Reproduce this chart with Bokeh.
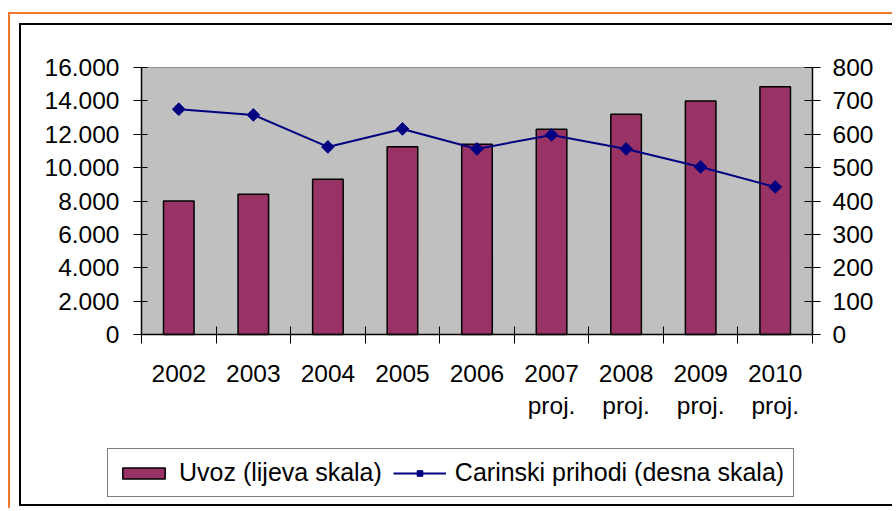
import numpy as np
from bokeh.plotting import figure
from bokeh.models import (Range1d, LinearAxis, FixedTicker, ColumnDataSource,
                          Legend, LegendItem)
from bokeh.embed import file_html
from bokeh.resources import INLINE

# ---- data ----
years = ["2002", "2003", "2004", "2005", "2006", "2007", "2008", "2009", "2010"]
notes = ["", "", "", "", "", "proj.", "proj.", "proj.", "proj."]
uvoz = [8000, 8400, 9300, 11250, 11400, 12300, 13200, 14000, 14850]
carinski = [675, 658, 562, 616, 556, 598, 556, 502, 442]
left_ticks = [0, 2000, 4000, 6000, 8000, 10000, 12000, 14000, 16000]
left_labels = ["0", "2.000", "4.000", "6.000", "8.000", "10.000", "12.000", "14.000", "16.000"]
right_ticks = [0, 100, 200, 300, 400, 500, 600, 700, 800]
right_labels = ["0", "100", "200", "300", "400", "500", "600", "700", "800"]

FONT = "Liberation Sans"
TICK_FS = "24.5px"

# ---- layout (pixels): canvas and the gray plot area inside it ----
W, H = 892, 508
PL, PR, PT, PB = 141, 812, 67, 334   # plot area edges on the canvas

n = len(years)
lmax = left_ticks[-1]
rmax = right_ticks[-1]
pxx = (PR - PL) / n
pxy = (PB - PT)
x_start, x_end = -PL / pxx, n + (W - PR) / pxx
yl_start, yl_end = -(H - PB) / pxy * lmax, lmax + PT / pxy * lmax
yr_start, yr_end = -(H - PB) / pxy * rmax, rmax + PT / pxy * rmax

xs = [i + 0.5 for i in range(n)]
src = ColumnDataSource(dict(x=xs, uvoz=uvoz, car=carinski))

p = figure(width=W, height=H, title=None,
           x_range=Range1d(x_start, x_end), y_range=Range1d(yl_start, yl_end),
           output_backend="svg", toolbar_location=None,
           min_border=0, min_border_left=0, min_border_right=0,
           min_border_top=0, min_border_bottom=0)
p.extra_y_ranges = {"right": Range1d(yr_start, yr_end)}
p.background_fill_alpha = 0
p.border_fill_alpha = 0
p.outline_line_color = None
p.xgrid.visible = False
p.ygrid.visible = False
# chart-area borders (orange outer frame, black inner frame) drawn behind the canvas
p.styles = {"background": (
    "linear-gradient(#F47A2A,#F47A2A) 8px 12px / 100% 2px no-repeat, "
    "linear-gradient(#F47A2A,#F47A2A) 8px 12px / 2px 100% no-repeat, "
    "linear-gradient(#000,#000) 19px 23px / 100% 2px no-repeat, "
    "linear-gradient(#000,#000) 19px 23px / 2px 483px no-repeat, "
    "linear-gradient(#000,#000) 19px 504px / 100% 2px no-repeat, #fff")}

# gray plot-area background spanning the data region
p.quad(left=0, right=n, bottom=0, top=lmax, fill_color="#C0C0C0",
       line_color="#909090", line_width=1)

bars = p.vbar(x="x", top="uvoz", width=0.41, source=src, fill_color="#993366",
              line_color="black", line_width=1.5)
ln = p.line("x", "car", source=src, y_range_name="right", line_color="#000080",
            line_width=2)
sc = p.scatter("x", "car", source=src, y_range_name="right", marker="square",
               angle=np.pi / 4, size=9, fill_color="#000080", line_color="#000080")

# x axis (placed at y = 0)
xa = p.xaxis[0]
xa.fixed_location = 0
xa.bounds = (0, n)
xa.ticker = FixedTicker(ticks=xs, minor_ticks=list(range(n + 1)))
xa.major_label_overrides = {x: (y + ("\n" + s if s else "")) for x, y, s in zip(xs, years, notes)}
xa.major_tick_in = 0
xa.major_tick_out = 0
xa.minor_tick_in = 8
xa.minor_tick_out = 9
xa.minor_tick_line_color = "black"
xa.axis_line_color = "black"
xa.axis_line_width = 1.5
xa.major_label_standoff = 16
xa.major_label_text_font = FONT
xa.major_label_text_font_size = TICK_FS
xa.major_label_text_color = "black"

# left y axis (placed at x = 0)
ya = p.yaxis[0]
ya.fixed_location = 0
ya.bounds = (0, lmax)
ya.ticker = FixedTicker(ticks=left_ticks)
ya.major_label_overrides = {t: l for t, l in zip(left_ticks, left_labels)}
ya.major_tick_in = 6
ya.major_tick_out = 8
ya.minor_tick_in = 0
ya.minor_tick_out = 0
ya.axis_line_color = "black"
ya.axis_line_width = 1.5
ya.major_label_standoff = 14
ya.major_label_text_font = FONT
ya.major_label_text_font_size = TICK_FS
ya.major_label_text_color = "black"

# right y axis (placed at x = n)
ra = LinearAxis(y_range_name="right", ticker=FixedTicker(ticks=right_ticks),
                fixed_location=n, bounds=(0, rmax))
ra.major_label_overrides = {t: l for t, l in zip(right_ticks, right_labels)}
ra.major_tick_in = 8
ra.major_tick_out = 8
ra.minor_tick_in = 0
ra.minor_tick_out = 0
ra.axis_line_color = "black"
ra.axis_line_width = 1.5
ra.major_label_standoff = 12
ra.major_label_text_font = FONT
ra.major_label_text_font_size = TICK_FS
ra.major_label_text_color = "black"
p.add_layout(ra, "right")

legend = Legend(items=[LegendItem(label="Uvoz (lijeva skala)", renderers=[bars]),
                       LegendItem(label="Carinski prihodi (desna skala)", renderers=[ln, sc])],
                location=(107, 11), orientation="horizontal", glyph_width=53,
                glyph_height=14, label_standoff=9, spacing=11, padding=9, margin=0,
                border_line_color="black", border_line_width=1,
                background_fill_color="white", background_fill_alpha=1,
                label_text_font=FONT, label_text_font_size="25px",
                label_text_color="black")
p.add_layout(legend)

open("out.html", "w").write(file_html(p, INLINE))
